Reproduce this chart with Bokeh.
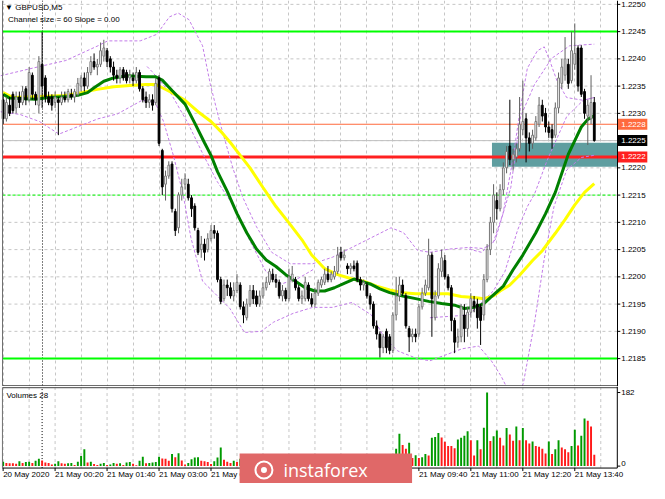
from bokeh.plotting import figure
from bokeh.layouts import column
from bokeh.models import Range1d
from bokeh.core.properties import value
from bokeh.embed import file_html
from bokeh.resources import INLINE

FONT = "Liberation Sans"

# ---------------- data (GBPUSD, M5, 20 May 23:00 .. 21 May 14:10) ----------------
opens = [
    1.22325, 1.22290, 1.22315, 1.22335, 1.22310, 1.22330, 1.22320, 1.22345,
    1.22325, 1.22370, 1.22335, 1.22315, 1.22390, 1.22365, 1.22330, 1.22330,
    1.22320, 1.22325, 1.22320, 1.22330, 1.22325, 1.22335, 1.22330, 1.22335,
    1.22350, 1.22365, 1.22350, 1.22375, 1.22395, 1.22385, 1.22390, 1.22405,
    1.22415, 1.22400, 1.22385, 1.22370, 1.22365, 1.22380, 1.22375, 1.22365,
    1.22365, 1.22360, 1.22375, 1.22345, 1.22330, 1.22320, 1.22325, 1.22320,
    1.22365, 1.22232, 1.22170, 1.22185, 1.22207, 1.22120, 1.22090, 1.22150,
    1.22170, 1.22170, 1.22145, 1.22130, 1.22085, 1.22050, 1.22060, 1.22050,
    1.22070, 1.22085, 1.22080, 1.21995, 1.21960, 1.21985, 1.21980, 1.21965,
    1.21975, 1.21985, 1.21945, 1.21925, 1.21950, 1.21975, 1.21965, 1.21950,
    1.21965, 1.21980, 1.21990, 1.22005, 1.21995, 1.21990, 1.21965, 1.21975,
    1.21960, 1.21995, 1.21995, 1.21980, 1.21960, 1.21960, 1.21985, 1.21960,
    1.21950, 1.21970, 1.21985, 1.21990, 1.22005, 1.21995, 1.22000, 1.22010,
    1.22045, 1.22035, 1.22020, 1.22015, 1.22020, 1.22025, 1.21995, 1.21985,
    1.21985, 1.21965, 1.21950, 1.21910, 1.21895, 1.21870, 1.21900, 1.21890,
    1.21865, 1.21930, 1.21965, 1.21985, 1.21965, 1.21905, 1.21890, 1.21895,
    1.21895, 1.21945, 1.21970, 1.21980, 1.22040, 1.21925, 1.21965, 1.22010,
    1.22030, 1.22000, 1.21980, 1.21920, 1.21880, 1.21890, 1.21930, 1.21905,
    1.21935, 1.21955, 1.21950, 1.21945, 1.21930, 1.21995, 1.22050, 1.22100,
    1.22140, 1.22125, 1.22160, 1.22200, 1.22240, 1.22215, 1.22220, 1.22235,
    1.22270, 1.22290, 1.22255, 1.22245, 1.22255, 1.22280, 1.22315, 1.22300,
    1.22275, 1.22270, 1.22260, 1.22310, 1.22355, 1.22370, 1.22390, 1.22360,
    1.22390, 1.22420, 1.22420, 1.22340, 1.22295, 1.22290, 1.22320,
]
highs = [
    1.22335, 1.22330, 1.22330, 1.22340, 1.22340, 1.22340, 1.22350, 1.22350,
    1.22385, 1.22375, 1.22340, 1.22405, 1.22450, 1.22370, 1.22340, 1.22335,
    1.22340, 1.22330, 1.22340, 1.22340, 1.22345, 1.22345, 1.22345, 1.22365,
    1.22370, 1.22375, 1.22385, 1.22405, 1.22410, 1.22400, 1.22430, 1.22435,
    1.22420, 1.22405, 1.22395, 1.22380, 1.22385, 1.22385, 1.22380, 1.22380,
    1.22375, 1.22385, 1.22380, 1.22350, 1.22340, 1.22335, 1.22335, 1.22365,
    1.22370, 1.22235, 1.22195, 1.22212, 1.22212, 1.22125, 1.22155, 1.22180,
    1.22190, 1.22180, 1.22150, 1.22135, 1.22090, 1.22075, 1.22070, 1.22080,
    1.22095, 1.22095, 1.22085, 1.22000, 1.21995, 1.21995, 1.21990, 1.21990,
    1.22005, 1.21990, 1.21955, 1.21960, 1.21985, 1.21985, 1.21975, 1.21975,
    1.21990, 1.22000, 1.22015, 1.22015, 1.22005, 1.21995, 1.21985, 1.21980,
    1.22015, 1.22020, 1.22000, 1.21985, 1.21975, 1.22000, 1.21990, 1.21970,
    1.21980, 1.21995, 1.22000, 1.22015, 1.22020, 1.22010, 1.22020, 1.22055,
    1.22055, 1.22050, 1.22025, 1.22025, 1.22030, 1.22030, 1.22000, 1.21995,
    1.21990, 1.21970, 1.21955, 1.21920, 1.21900, 1.21895, 1.21905, 1.21895,
    1.21935, 1.22000, 1.22000, 1.21995, 1.21970, 1.21910, 1.21905, 1.21905,
    1.21950, 1.21980, 1.21995, 1.22070, 1.22045, 1.21975, 1.22025, 1.22050,
    1.22040, 1.22005, 1.21985, 1.21925, 1.21905, 1.21950, 1.21950, 1.21945,
    1.21970, 1.21965, 1.21960, 1.21950, 1.22005, 1.22060, 1.22110, 1.22170,
    1.22155, 1.22170, 1.22210, 1.22240, 1.22325, 1.22235, 1.22245, 1.22330,
    1.22360, 1.22300, 1.22265, 1.22270, 1.22295, 1.22330, 1.22325, 1.22310,
    1.22285, 1.22280, 1.22320, 1.22375, 1.22400, 1.22440, 1.22400, 1.22450,
    1.22465, 1.22425, 1.22425, 1.22345, 1.22325, 1.22370, 1.22330,
]
lows = [
    1.22280, 1.22285, 1.22295, 1.22300, 1.22300, 1.22310, 1.22315, 1.22315,
    1.22320, 1.22325, 1.22315, 1.22300, 1.22310, 1.22320, 1.22315, 1.22305,
    1.22310, 1.22260, 1.22315, 1.22320, 1.22320, 1.22325, 1.22320, 1.22330,
    1.22340, 1.22340, 1.22345, 1.22370, 1.22380, 1.22370, 1.22385, 1.22395,
    1.22385, 1.22375, 1.22360, 1.22355, 1.22355, 1.22360, 1.22355, 1.22355,
    1.22350, 1.22355, 1.22340, 1.22320, 1.22310, 1.22310, 1.22305, 1.22315,
    1.22240, 1.22150, 1.22140, 1.22180, 1.22118, 1.22075, 1.22080, 1.22140,
    1.22160, 1.22140, 1.22110, 1.22085, 1.22040, 1.22035, 1.22030, 1.22045,
    1.22065, 1.22070, 1.21990, 1.21950, 1.21955, 1.21965, 1.21960, 1.21955,
    1.21970, 1.21940, 1.21915, 1.21920, 1.21945, 1.21950, 1.21945, 1.21945,
    1.21960, 1.21975, 1.21985, 1.21990, 1.21980, 1.21960, 1.21955, 1.21955,
    1.21955, 1.21990, 1.21975, 1.21955, 1.21950, 1.21955, 1.21955, 1.21945,
    1.21945, 1.21965, 1.21980, 1.21985, 1.21990, 1.21990, 1.21995, 1.22005,
    1.22030, 1.22030, 1.22005, 1.22005, 1.22010, 1.21990, 1.21975, 1.21975,
    1.21960, 1.21940, 1.21905, 1.21885, 1.21852, 1.21860, 1.21860, 1.21858,
    1.21860, 1.21920, 1.21955, 1.21965, 1.21905, 1.21862, 1.21880, 1.21880,
    1.21890, 1.21940, 1.21965, 1.21975, 1.21890, 1.21920, 1.21960, 1.22000,
    1.21995, 1.21975, 1.21900, 1.21860, 1.21870, 1.21880, 1.21880, 1.21890,
    1.21925, 1.21935, 1.21905, 1.21875, 1.21920, 1.21990, 1.22040, 1.22080,
    1.22105, 1.22120, 1.22150, 1.22190, 1.22205, 1.22195, 1.22210, 1.22230,
    1.22260, 1.22210, 1.22230, 1.22235, 1.22250, 1.22275, 1.22285, 1.22265,
    1.22255, 1.22235, 1.22255, 1.22300, 1.22345, 1.22360, 1.22345, 1.22355,
    1.22380, 1.22340, 1.22330, 1.22290, 1.22242, 1.22280, 1.22248,
]
closes = [
    1.22290, 1.22320, 1.22300, 1.22305, 1.22330, 1.22320, 1.22340, 1.22325,
    1.22375, 1.22335, 1.22325, 1.22395, 1.22350, 1.22330, 1.22320, 1.22315,
    1.22330, 1.22320, 1.22330, 1.22325, 1.22340, 1.22330, 1.22340, 1.22355,
    1.22365, 1.22350, 1.22375, 1.22395, 1.22385, 1.22390, 1.22415, 1.22420,
    1.22395, 1.22385, 1.22370, 1.22365, 1.22380, 1.22365, 1.22360, 1.22370,
    1.22360, 1.22375, 1.22345, 1.22325, 1.22320, 1.22325, 1.22315, 1.22355,
    1.22245, 1.22165, 1.22185, 1.22205, 1.22125, 1.22085, 1.22150, 1.22165,
    1.22180, 1.22145, 1.22125, 1.22090, 1.22045, 1.22060, 1.22045, 1.22070,
    1.22085, 1.22080, 1.21995, 1.21955, 1.21985, 1.21980, 1.21965, 1.21975,
    1.21990, 1.21945, 1.21930, 1.21950, 1.21975, 1.21960, 1.21950, 1.21965,
    1.21980, 1.21990, 1.22010, 1.21995, 1.21990, 1.21965, 1.21975, 1.21960,
    1.22000, 1.22005, 1.21980, 1.21960, 1.21965, 1.21990, 1.21960, 1.21950,
    1.21970, 1.21990, 1.21995, 1.22005, 1.21995, 1.22005, 1.22010, 1.22040,
    1.22035, 1.22040, 1.22015, 1.22020, 1.22015, 1.21995, 1.21985, 1.21990,
    1.21965, 1.21950, 1.21910, 1.21895, 1.21870, 1.21890, 1.21870, 1.21865,
    1.21930, 1.21965, 1.21985, 1.21970, 1.21910, 1.21890, 1.21895, 1.21890,
    1.21945, 1.21970, 1.21985, 1.22040, 1.21960, 1.21965, 1.22015, 1.22035,
    1.22000, 1.21980, 1.21920, 1.21880, 1.21890, 1.21945, 1.21905, 1.21935,
    1.21960, 1.21945, 1.21925, 1.21920, 1.21995, 1.22050, 1.22100, 1.22150,
    1.22125, 1.22160, 1.22200, 1.22230, 1.22215, 1.22225, 1.22235, 1.22280,
    1.22285, 1.22255, 1.22245, 1.22260, 1.22285, 1.22315, 1.22295, 1.22275,
    1.22265, 1.22255, 1.22310, 1.22365, 1.22385, 1.22400, 1.22355, 1.22415,
    1.22410, 1.22350, 1.22335, 1.22300, 1.22315, 1.22320, 1.22250,
]
volumes = [
    11, 8, 7, 7, 6, 12, 8, 10,
    11, 8, 13, 18, 14, 9, 8, 4,
    6, 12, 7, 6, 7, 8, 3, 11,
    25, 42, 9, 11, 5, 3, 6, 8,
    3, 4, 8, 6, 7, 3, 9, 10,
    6, 2, 13, 23, 7, 8, 9, 10,
    23, 19, 18, 13, 30, 22, 32, 14,
    4, 8, 17, 21, 22, 13, 12, 10,
    5, 12, 21, 46, 16, 11, 8, 13,
    10, 18, 14, 22, 12, 9, 15, 11,
    8, 13, 16, 10, 9, 14, 12, 18,
    15, 11, 13, 17, 12, 9, 14, 16,
    11, 10, 13, 15, 12, 20, 17, 14,
    19, 12, 11, 16, 24, 21, 18, 22,
    26, 19, 15, 23, 20, 25, 28, 22,
    30, 43, 80, 52, 43, 58, 20, 27,
    20, 22, 30, 26, 70, 72, 82, 71,
    60, 50, 50, 44, 66, 70, 75, 86,
    64, 26, 64, 42, 95, 182, 62, 74,
    88, 70, 51, 94, 78, 63, 98, 64,
    94, 64, 56, 61, 50, 48, 43, 31,
    61, 30, 42, 64, 46, 42, 34, 50,
    90, 51, 75, 118, 112, 98, 28,
]

# moving averages (bar index, price)
ma_green_bars = [0, 2, 10, 14, 20, 23, 26, 28, 31, 34, 38, 44, 47, 49, 52, 56, 59, 62, 64, 66,
                 69, 72, 75, 78, 81, 84, 87, 90, 93, 96, 99, 102, 105, 108, 110, 113, 116, 119,
                 123, 127, 131, 135, 139, 142, 145, 148, 150, 154, 157, 160, 164, 167, 170, 172,
                 174, 176, 178, 180, 182]
ma_green_vals = [1.22335, 1.22328, 1.22326, 1.22329, 1.22331, 1.22333, 1.22338, 1.22347, 1.22359,
                 1.22365, 1.22369, 1.22367, 1.22367, 1.22361, 1.22342, 1.22317, 1.22282, 1.22246,
                 1.22223, 1.22193, 1.22157, 1.22116, 1.22081, 1.22051, 1.22031, 1.22019, 1.22004,
                 1.21992, 1.21980, 1.21974, 1.21974, 1.21980, 1.21988, 1.21996, 1.21992, 1.21987,
                 1.21978, 1.21971, 1.21965, 1.21960, 1.21955, 1.21951, 1.21948, 1.21942, 1.21944,
                 1.21951, 1.21962, 1.21983, 1.22013, 1.22040, 1.22081, 1.22116, 1.22155, 1.22190,
                 1.22225, 1.22250, 1.22275, 1.22289, 1.22296]
ma_yellow_bars = [0, 3, 11, 19, 24, 29, 34, 39, 44, 47, 49, 52, 56, 60, 64, 67, 70, 73, 76, 80,
                  84, 88, 92, 95, 99, 103, 107, 111, 115, 119, 123, 127, 131, 137, 141, 145, 148,
                  151, 153, 156, 159, 163, 166, 170, 173, 176, 179, 182]
ma_yellow_vals = [1.22338, 1.22329, 1.22331, 1.22333, 1.22338, 1.22344, 1.22349, 1.22351, 1.22353,
                  1.22353, 1.22347, 1.22338, 1.22324, 1.22303, 1.22285, 1.22267, 1.22246, 1.22223,
                  1.22200, 1.22164, 1.22129, 1.22099, 1.22068, 1.22040, 1.22015, 1.22004, 1.21997,
                  1.21992, 1.21983, 1.21976, 1.21971, 1.21969, 1.21969, 1.21969, 1.21964, 1.21962,
                  1.21960, 1.21965, 1.21974, 1.21985, 1.22003, 1.22030, 1.22048, 1.22080, 1.22105,
                  1.22132, 1.22155, 1.22171]

# channel bands (bar index, price)
band_up_bars = [-0.8, 9.1, 19.3, 29.2, 32.2, 42.2, 47.3, 51.2, 53.9, 57.2, 61.4, 63.8, 66.8,
                70.7, 73.7, 77.9, 82.7, 88.4, 95.3, 101.4, 107.4, 113.4, 119.4, 123.3, 127.5,
                131.4, 137.4, 143.4, 147.9, 150.9, 153.9, 156.9, 159.3, 161.4, 164.5, 166.6,
                168.4, 170.5, 173.5, 178.6, 181.9]
band_up_vals = [1.22369, 1.22383, 1.22397, 1.22424, 1.22433, 1.22433, 1.22445, 1.22477, 1.22484,
                1.22472, 1.22424, 1.22353, 1.22282, 1.22200, 1.22147, 1.22093, 1.22045, 1.22024,
                1.22024, 1.22036, 1.22054, 1.22072, 1.22090, 1.22081, 1.22049, 1.22045, 1.22051,
                1.22054, 1.22052, 1.22063, 1.22116, 1.22214, 1.22312, 1.22383, 1.22415, 1.22422,
                1.22395, 1.22360, 1.22329, 1.22324, 1.22329]
band_dn_bars = [-0.8, 5.2, 11.2, 17.2, 23.2, 29.2, 35.2, 42.8, 46.7, 49.4, 52.4, 55.4, 57.8,
                61.4, 65.3, 69.8, 74.3, 79.4, 83.3, 89.3, 95.3, 101.4, 107.4, 113.4, 117.3,
                121.5, 127.5, 131.4, 141.3, 146.4, 150.3, 153.3, 155.4, 157.8, 160.2, 163.6,
                166.6, 169.6, 173.5, 178.0, 181.9]
band_dn_vals = [1.22303, 1.22298, 1.22285, 1.22262, 1.22276, 1.22290, 1.22299, 1.22324, 1.22321,
                1.22285, 1.22223, 1.22152, 1.22072, 1.21992, 1.21969, 1.21942, 1.21898, 1.21900,
                1.21917, 1.21933, 1.21944, 1.21944, 1.21953, 1.21930, 1.21889, 1.21864, 1.21850,
                1.21846, 1.21868, 1.21873, 1.21846, 1.21818, 1.21793, 1.21761, 1.21806, 1.21916,
                1.22033, 1.22129, 1.22196, 1.22219, 1.22223]
band_inner_bars = [44.3, 45.8, 51.8, 56.9, 61.7, 65.9, 71.9, 75.8, 80.9, 85.7, 90.8, 95.9]
band_inner_vals = [1.22386, 1.22377, 1.22335, 1.22282, 1.22223, 1.22175, 1.22122, 1.22068,
                   1.22010, 1.21987, 1.21997, 1.22015]
band_slow_up_bars = [143.4, 147.3, 151.5, 156.3, 159.3, 163.6, 168.9, 174.4, 182.0]
band_slow_up_vals = [1.22051, 1.22045, 1.22068, 1.22164, 1.22294, 1.22353, 1.22401, 1.22424,
                     1.22427]
band_slow_dn_bars = [131.4, 143.4, 150.9, 154.5, 158.4, 161.4, 163.6, 167.5, 173.5, 178.6, 181.9]
band_slow_dn_vals = [1.21925, 1.21930, 1.21974, 1.22010, 1.22086, 1.22129, 1.22152, 1.22214,
                     1.22294, 1.22324, 1.22329]

# axis / levels
price_ticks = [1.2185, 1.2190, 1.2195, 1.2200, 1.2205, 1.2210, 1.2215,
               1.2220, 1.2225, 1.2230, 1.2235, 1.2240, 1.2245, 1.2250]
time_labels = ["20 May 2020", "21 May 00:20", "21 May 01:40", "21 May 03:00",
               "21 May 04:20", "21 May 05:40", "21 May 07:00", "21 May 08:20",
               "21 May 09:40", "21 May 11:00", "21 May 12:20", "21 May 13:40"]
time_label_bars = [0, 16, 32, 48, 64, 80, 96, 112, 128, 144, 160, 176]
grid_bars = [0, 8, 16, 24, 32, 40, 48, 56, 64, 72, 80, 88, 96, 104, 112, 120,
             128, 136, 144, 152, 160, 168, 176, 184]
day_separator_bar = 12
green_levels = [1.2245, 1.2185]
green_dashed_level = 1.2215
red_level = 1.2222
orange_level = 1.2228
bid_level = 1.2225
zone_start_bar = 150.5
zone_top, zone_bottom = 1.22246, 1.22202
volume_max = 182
volume_label = "Volumes 28"

n = len(opens)
assert all(len(a) == n for a in (highs, lows, closes, volumes))
bands = [(band_up_bars, band_up_vals), (band_dn_bars, band_dn_vals),
         (band_inner_bars, band_inner_vals), (band_slow_up_bars, band_slow_up_vals),
         (band_slow_dn_bars, band_slow_dn_vals)]
assert len(ma_green_bars) == len(ma_green_vals) and len(ma_yellow_bars) == len(ma_yellow_vals)
assert all(len(a) == len(b) for a, b in bands)
xs = list(range(n))

# ---------------- geometry (bar units / price units) ----------------
X_RANGE = Range1d(-0.811, 199.0)
PX = 199.811 / 649.0            # bar units per screen pixel
AXIS_X = 189.09                 # right price scale
LEFT_X = -0.21
LABEL_X = AXIS_X + 1.2
TICK_LEN = 3 * PX
GRID_COLOR = "#c6c6c6"
BAND_COLOR = "#c27ce8"
P_TOP, P_BOTTOM = 1.225071, 1.217988
PANE_BOTTOM = 1.218002
PPX = (P_TOP - P_BOTTOM) / 386.0   # price per pixel


def tfont(size="8px"):
    return dict(text_font=value(FONT), text_font_size=size)


# ---------------- price pane ----------------
p = figure(width=649, height=386, x_range=X_RANGE, y_range=Range1d(P_BOTTOM, P_TOP),
           output_backend="svg", toolbar_location=None, x_axis_location=None,
           y_axis_location=None, min_border=0)
p.outline_line_color = None
p.background_fill_color = "white"
p.border_fill_color = "white"
p.grid.visible = False

k = len(price_ticks)
p.segment(x0=[LEFT_X] * k, y0=price_ticks, x1=[AXIS_X] * k, y1=price_ticks,
          line_color=GRID_COLOR, line_dash="3 3")
p.vspan(x=grid_bars, line_color=GRID_COLOR, line_dash="3 3", line_width=1)
p.vspan(x=[day_separator_bar], line_color="black", line_dash="1 2", line_width=1)

p.quad(left=[zone_start_bar], right=[AXIS_X], top=[zone_top], bottom=[zone_bottom],
       fill_color="#5f9ea0", line_color=None)


def level(y, **kw):
    p.segment(x0=[LEFT_X], y0=[y], x1=[AXIS_X], y1=[y], **kw)


level(bid_level, line_color="#c0c0c0", line_width=1)
level(orange_level, line_color="#ff6a3d", line_width=1)
for g in green_levels:
    level(g, line_color="#00ff00", line_width=2)
level(green_dashed_level, line_color="#00ff00", line_width=1, line_dash="3 2")
level(red_level, line_color="#ff2020", line_width=3)

for bx, by in bands:
    p.line(bx, by, line_color=BAND_COLOR, line_width=1, line_dash="3 2")
p.line(ma_yellow_bars, ma_yellow_vals, line_color="#ffff00", line_width=3)
p.line(ma_green_bars, ma_green_vals, line_color="#008000", line_width=3)

up = [c >= o for o, c in zip(opens, closes)]
p.segment(x0=xs, y0=lows, x1=xs, y1=highs,
          line_color=["#606060" if u else "#000000" for u in up], line_width=1)
p.vbar(x=xs, width=0.55,
       top=[max(o, c) for o, c in zip(opens, closes)],
       bottom=[min(o, c) for o, c in zip(opens, closes)],
       fill_color=["#ffffff" if u else "#000000" for u in up],
       line_color=["#787878" if u else "#000000" for u in up], line_width=1)

# pane frame + right price scale
p.segment(x0=[LEFT_X], y0=[PANE_BOTTOM], x1=[AXIS_X], y1=[PANE_BOTTOM], line_color="#404040")
p.vspan(x=[LEFT_X], line_color="#707070", line_width=1)
p.vspan(x=[AXIS_X], line_color="black", line_width=1)
p.segment(x0=[AXIS_X] * k, y0=price_ticks, x1=[AXIS_X + TICK_LEN] * k, y1=price_ticks,
          line_color="black")
p.text(x=[LABEL_X] * k, y=price_ticks, text=[f"{t:.4f}" for t in price_ticks],
       text_color="black", text_baseline="middle", text_align="left", **tfont())

# price tags on the scale
tags = [(orange_level, "#ff6a3d"), (bid_level, "#000000"), (red_level, "#ff2020")]
p.quad(left=[AXIS_X + 0.2] * 3, right=[AXIS_X + 30 * PX] * 3,
       top=[t[0] + 5.5 * PPX for t in tags], bottom=[t[0] - 5.5 * PPX for t in tags],
       fill_color=[t[1] for t in tags], line_color=None)
p.text(x=[LABEL_X] * 3, y=[t[0] for t in tags], text=[f"{t[0]:.4f}" for t in tags],
       text_color="white", text_baseline="middle", text_align="left", **tfont())

p.text(x=[0.6], y=[1.22495], text=["\u25bc GBPUSD,M5"], text_color="black",
       text_baseline="middle", **tfont())
p.text(x=[1.5], y=[1.22472], text=["Channel size = 60 Slope = 0.00"], text_color="black",
       text_baseline="middle", **tfont())

# ---------------- volume pane ----------------
V_TOP, V_BOTTOM = 196.9, -43.0
VPX = (V_TOP - V_BOTTOM) / 97.0
VOL_PANE_TOP = 193.9
VOL_PANE_BOTTOM = -4.8
BANNER_LEFT, BANNER_RIGHT, BANNER_TOP = 72.8, 125.9, 31.1
v = figure(width=649, height=97, x_range=X_RANGE, y_range=Range1d(V_BOTTOM, V_TOP),
           output_backend="svg", toolbar_location=None, x_axis_location=None,
           y_axis_location=None, min_border=0)
v.outline_line_color = None
v.background_fill_color = "white"
v.border_fill_color = "white"
v.grid.visible = False

m = len(grid_bars)
v.segment(x0=grid_bars, y0=[VOL_PANE_BOTTOM] * m, x1=grid_bars, y1=[VOL_PANE_TOP] * m,
          line_color=GRID_COLOR, line_dash="3 3")
v.segment(x0=[day_separator_bar], y0=[VOL_PANE_BOTTOM], x1=[day_separator_bar],
          y1=[VOL_PANE_TOP], line_color="black", line_dash="1 2")

vol_colors = ["#009a00" if i == 0 or volumes[i] > volumes[i - 1] else "#ff1a1a" for i in xs]
v.vbar(x=xs, width=0.6, top=volumes, bottom=0, fill_color=vol_colors, line_color=None)

# pane frame + scale
v.segment(x0=[LEFT_X], y0=[VOL_PANE_BOTTOM], x1=[AXIS_X], y1=[VOL_PANE_BOTTOM], line_color="black")
v.segment(x0=[LEFT_X], y0=[VOL_PANE_TOP], x1=[AXIS_X], y1=[VOL_PANE_TOP], line_color="#404040")
v.segment(x0=[LEFT_X], y0=[VOL_PANE_BOTTOM], x1=[LEFT_X], y1=[VOL_PANE_TOP], line_color="#707070")
v.segment(x0=[AXIS_X], y0=[VOL_PANE_BOTTOM], x1=[AXIS_X], y1=[V_TOP], line_color="black")
v.segment(x0=[AXIS_X] * 2, y0=[0, volume_max], x1=[AXIS_X + TICK_LEN] * 2, y1=[0, volume_max],
          line_color="black")
v.text(x=[LABEL_X], y=[volume_max], text=[str(volume_max)], text_color="black",
       text_baseline="middle", text_align="left", **tfont())
v.text(x=[LABEL_X], y=[0], text=["0"], text_color="black",
       text_baseline="bottom", text_align="left", **tfont())
t = len(time_label_bars)
v.segment(x0=time_label_bars, y0=[VOL_PANE_BOTTOM] * t, x1=time_label_bars,
          y1=[VOL_PANE_BOTTOM - 3 * VPX] * t, line_color="black")
# labels that lie wholly under the watermark are not visible in the chart
shown = [(b, s) for b, s in zip(time_label_bars, time_labels)
         if not (BANNER_LEFT < b < BANNER_RIGHT)]
v.text(x=[b for b, _ in shown], y=[-21.5] * len(shown), text=[s for _, s in shown],
       text_color="black", text_baseline="middle", text_align="left", **tfont())
v.text(x=[1.0], y=[174.8], text=[volume_label], text_color="black",
       text_baseline="middle", **tfont())

# watermark banner
v.quad(left=[BANNER_LEFT], right=[BANNER_RIGHT], top=[BANNER_TOP], bottom=[V_BOTTOM - 5],
       fill_color="#e06868", line_color=None)
v.scatter(x=[80.3], y=[-9.6], marker="circle", size=17, fill_color=None,
          line_color="white", line_width=2)
v.scatter(x=[80.3], y=[-9.6], marker="circle", size=6, fill_color="white", line_color=None)
v.text(x=[86.3], y=[-9.0], text=["instaforex"], text_color="white",
       text_baseline="middle", text_font=value("Open Sans"), text_font_size="18px")

layout = column(p, v, spacing=0)
open("out.html", "w").write(file_html(layout, INLINE))
